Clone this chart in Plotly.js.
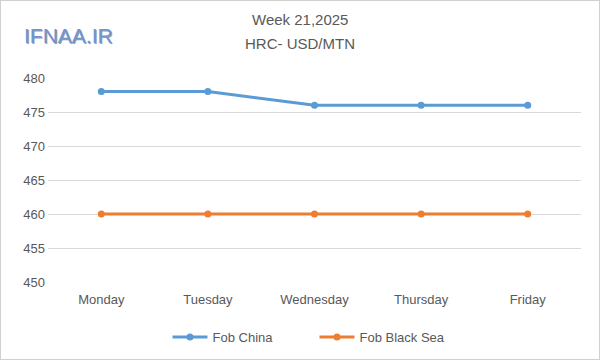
<!DOCTYPE html>
<html><head><meta charset="utf-8">
<script src="https://cdn.plot.ly/plotly-3.0.1.min.js"></script>
<style>
html,body{margin:0;padding:0;background:#fff;}
#wrap{position:absolute;left:0;top:0;width:598px;height:358px;border:1px solid #d0d0d0;}
#chart{width:598px;height:358px;}
</style></head>
<body><div id="wrap"><div id="chart"></div></div>
<script>
const days = ["Monday","Tuesday","Wednesday","Thursday","Friday"];
const fobChina = [478,478,476,476,476];
const fobBlackSea = [460,460,460,460,460];
const yTicks = [450,455,460,465,470,475,480];

const traces = [
  {x: days, y: fobChina, name: "Fob China", type: "scatter", mode: "lines+markers",
   line: {color: "#5B9BD5", width: 3}, marker: {color: "#5B9BD5", size: 7}},
  {x: days, y: fobBlackSea, name: "Fob Black Sea", type: "scatter", mode: "lines+markers",
   line: {color: "#ED7D31", width: 3}, marker: {color: "#ED7D31", size: 7}}
];
const plotH = 358 - 77 - 77;
function py(pix) { return (358 - 77 + 1 - pix) / plotH; }
const layout = {
  width: 598, height: 358,
  margin: {l: 47, r: 18, t: 77, b: 77, autoexpand: false},
  paper_bgcolor: "#fff", plot_bgcolor: "#fff",
  font: {family: "Liberation Sans, Arial, sans-serif", color: "#595959", size: 13},
  xaxis: {type: "category", range: [-0.5, 4.5], automargin: false, showgrid: false, zeroline: false, showline: false, ticks: "",
          ticklabelstandoff: 8, tickfont: {size: 13, color: "#595959"}},
  yaxis: {range: [450, 480], automargin: false, tickvals: yTicks, showgrid: true, gridcolor: "#d9d9d9", gridwidth: 1,
          zeroline: false, showline: false, ticks: "", ticklabelstandoff: 2, tickfont: {size: 13, color: "#595959"}},
  showlegend: true,
  legend: {orientation: "h", x: 0.5, xanchor: "center", y: py(337), yanchor: "middle",
           font: {size: 13, color: "#595959"}, itemwidth: 35, entrywidth: 97, entrywidthmode: "pixels",
           traceorder: "normal"},
  annotations: [
    {text: "Week 21,2025", xref: "paper", yref: "paper", x: (300 - 48) / 532, y: py(20), xanchor: "center", yanchor: "middle",
     showarrow: false, font: {size: 15, color: "#595959"}},
    {text: "HRC- USD/MTN", xref: "paper", yref: "paper", x: (300 - 48) / 532, y: py(44), xanchor: "center", yanchor: "middle",
     showarrow: false, font: {size: 15, color: "#595959"}},
    {text: "IFNAA.IR", xref: "paper", yref: "paper", x: (22 - 48) / 532, y: py(35), xanchor: "left", yanchor: "middle",
     showarrow: false, font: {size: 21, color: "#9a9ea8"}, xshift: 1.5, yshift: -1.5},
    {text: "IFNAA.IR", xref: "paper", yref: "paper", x: (22 - 48) / 532, y: py(35), xanchor: "left", yanchor: "middle",
     showarrow: false, font: {size: 21, color: "#6f96d2"}}
  ]
};
Plotly.newPlot("chart", traces, layout, {displayModeBar: false, staticPlot: true});
</script></body></html>
